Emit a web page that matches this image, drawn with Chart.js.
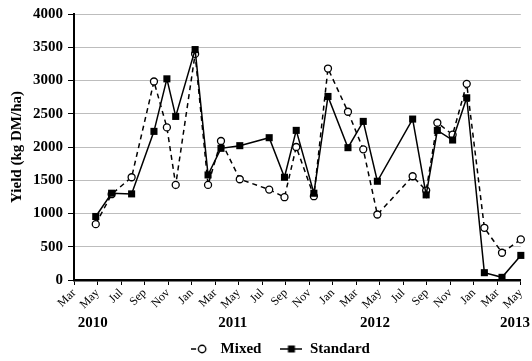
<!DOCTYPE html>
<html>
<head>
<meta charset="utf-8">
<script src="https://cdn.jsdelivr.net/npm/chart.js@4.4.0/dist/chart.umd.min.js"></script>
<style>
  html, body { margin: 0; padding: 0; background: #fff; }
  #wrap { width: 532px; height: 361px; position: relative; }
</style>
</head>
<body>
<div id="wrap"><canvas id="yieldChart"></canvas></div>
<script>
// months counted from Mar 2010 (0) to May 2013 (38)
const sampleMonth = [1.85, 3.2, 4.9, 6.8, 7.9, 8.65, 10.3, 11.4, 12.5, 14.1, 16.6, 17.9, 18.9,
    20.4, 21.6, 23.3, 24.6, 25.8, 28.8, 29.95, 30.9, 32.2, 33.4, 34.9, 36.4, 38];
const mixedYield = [840, 1290, 1545, 2985, 2295, 1430, 3400, 1430, 2090, 1515, 1360, 1245, 2000,
    1260, 3180, 2530, 1965, 985, 1560, 1345, 2365, 2185, 2950, 785, 410, 610];
const standardYield = [955, 1305, 1295, 2235, 3025, 2460, 3465, 1580, 1980, 2020, 2140, 1545, 2250,
    1305, 2760, 1990, 2385, 1485, 2420, 1280, 2250, 2105, 2740, 110, 40, 370];

const monthTicks = ['Mar', 'May', 'Jul', 'Sep', 'Nov', 'Jan', 'Mar', 'May', 'Jul', 'Sep', 'Nov',
    'Jan', 'Mar', 'May', 'Jul', 'Sep', 'Nov', 'Jan', 'Mar', 'May'];
const yearLabels = ['2010', '2011', '2012', '2013'];
const yearPos = [1.6, 13.5, 25.6, 37.5];

const serif = "'Liberation Serif', 'Times New Roman', serif";

// legend icons: line with marker
function makeIcon(dashed, marker) {
    const c = document.createElement('canvas');
    c.width = 22; c.height = 12;
    const g = c.getContext('2d');
    g.strokeStyle = '#000';
    g.lineWidth = 1.5;
    g.beginPath();
    if (dashed) {
        g.moveTo(0, 6); g.lineTo(5, 6);
    } else {
        g.moveTo(0, 6); g.lineTo(22, 6);
    }
    g.stroke();
    if (marker === 'circle') {
        g.fillStyle = '#fff';
        g.beginPath();
        g.arc(11, 6, 3.7, 0, Math.PI * 2);
        g.fill();
        g.lineWidth = 1.4;
        g.stroke();
    } else {
        g.fillStyle = '#000';
        g.fillRect(7.5, 2.5, 7, 7);
    }
    return c;
}
const mixedIcon = makeIcon(true, 'circle');
const standardIcon = makeIcon(false, 'rect');

const yearPlugin = {
    id: 'years',
    afterLayout(chart) {
        // nudge legend to where the original sits
        const lg = chart.legend;
        lg.left = 40;
        lg.top += 5.5;
        lg.bottom += 5.5;
    },
    afterDraw(chart) {
        const x = chart.scales.x;
        const ctx = chart.ctx;
        ctx.save();
        ctx.font = 'bold 15px ' + serif;
        ctx.fillStyle = '#000';
        ctx.textAlign = 'center';
        ctx.textBaseline = 'middle';
        yearLabels.forEach((t, i) => {
            ctx.fillText(t, x.getPixelForValue(yearPos[i]), x.bottom + 6);
        });
        ctx.restore();
    }
};

const ctx = document.getElementById('yieldChart').getContext('2d');
new Chart(ctx, {
    type: 'line',
    data: {
        datasets: [{
            label: 'Mixed',
            data: sampleMonth.map((m, i) => ({ x: m, y: mixedYield[i] })),
            borderColor: '#000',
            borderWidth: 1.5,
            borderDash: [5, 4],
            pointStyle: 'circle',
            pointRadius: 3.5,
            pointBackgroundColor: '#fff',
            pointBorderColor: '#000',
            pointBorderWidth: 1.3,
            tension: 0,
            clip: false,
            order: 2
        }, {
            label: 'Standard',
            data: sampleMonth.map((m, i) => ({ x: m, y: standardYield[i] })),
            borderColor: '#000',
            borderWidth: 1.5,
            pointStyle: 'rect',
            pointRadius: 5,
            pointBackgroundColor: '#000',
            pointBorderColor: '#000',
            pointBorderWidth: 0,
            tension: 0,
            clip: false,
            order: 1
        }]
    },
    options: {
        responsive: true,
        maintainAspectRatio: false,
        animation: false,
        layout: { padding: { left: 0, right: 11, top: 13, bottom: 0 } },
        plugins: {
            legend: {
                position: 'bottom',
                labels: {
                    usePointStyle: true,
                    pointStyleWidth: 22,
                    padding: 19,
                    color: '#000',
                    font: { family: serif, size: 15, weight: 'bold' },
                    generateLabels: () => [
                        { text: 'Mixed', pointStyle: mixedIcon, datasetIndex: 0, fontColor: '#000', lineWidth: 0, strokeStyle: 'transparent', fillStyle: 'transparent' },
                        { text: 'Standard', pointStyle: standardIcon, datasetIndex: 1, fontColor: '#000', lineWidth: 0, strokeStyle: 'transparent', fillStyle: 'transparent' }
                    ]
                }
            },
            tooltip: { enabled: false }
        },
        scales: {
            x: {
                type: 'linear',
                min: 0,
                max: 38,
                afterFit: (scale) => { scale.height = 37; },
                afterBuildTicks: (scale) => {
                    scale.ticks = monthTicks.map((t, i) => ({ value: i * 2 }));
                },
                border: { color: '#000', width: 2.5 },
                grid: {
                    drawOnChartArea: false,
                    drawTicks: true,
                    tickLength: 5,
                    tickColor: '#000',
                    lineWidth: 1
                },
                ticks: {
                    autoSkip: false,
                    minRotation: 45,
                    maxRotation: 45,
                    padding: 1,
                    color: '#000',
                    font: { family: serif, size: 12 },
                    callback: (v) => monthTicks[Math.round(v / 2)]
                }
            },
            y: {
                min: 0,
                max: 4000,
                afterFit: (scale) => { scale.width = 74; },
                border: { color: '#000', width: 2 },
                grid: {
                    color: '#bdbdbd',
                    lineWidth: 1,
                    tickLength: 6,
                    tickColor: '#000'
                },
                ticks: {
                    stepSize: 500,
                    padding: 5,
                    color: '#000',
                    font: { family: serif, size: 15, weight: 'bold' },
                    callback: (v) => String(v)
                },
                title: {
                    display: true,
                    text: 'Yield (kg DM/ha)',
                    color: '#000',
                    padding: { top: 8, bottom: 0 },
                    font: { family: serif, size: 15, weight: 'bold' }
                }
            }
        }
    },
    plugins: [yearPlugin]
});
</script>
</body>
</html>
